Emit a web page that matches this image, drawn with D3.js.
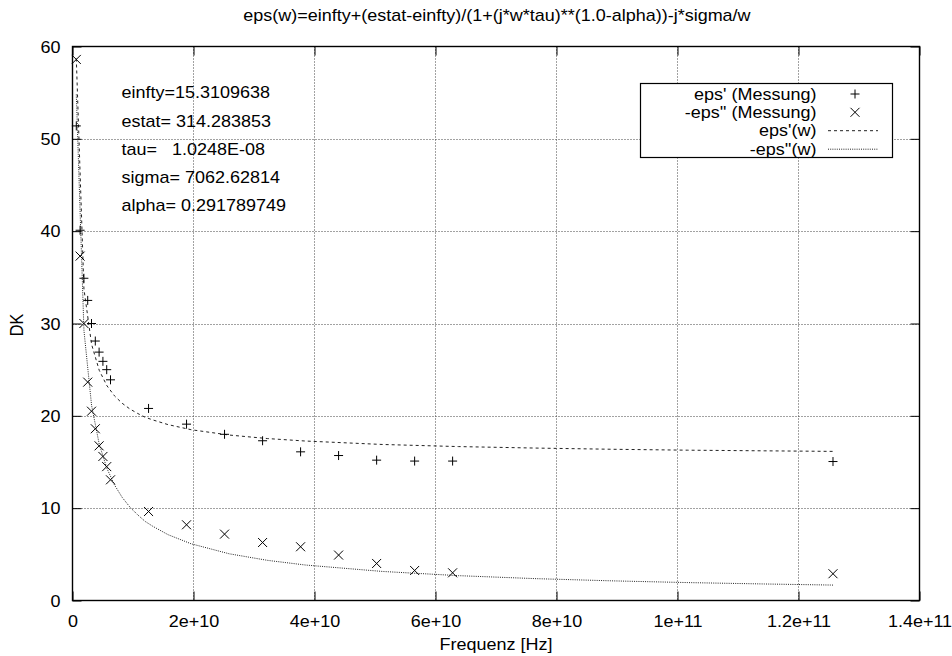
<!DOCTYPE html>
<html>
<head>
<meta charset="utf-8">
<script src="https://cdn.jsdelivr.net/npm/d3@7"></script>
<style>
  html, body { margin: 0; padding: 0; background: #fff; }
  svg { display: block; font-family: "Liberation Sans", Arial, Helvetica, sans-serif; }
  text { white-space: pre; fill: #000; }
</style>
</head>
<body>
<svg id="chart" width="952" height="656"></svg>
<script>
// Measured permittivity vs. angular frequency w [1/s]
const omega = [6.283e8, 1.257e9, 1.885e9, 2.513e9, 3.142e9, 3.770e9, 4.398e9, 5.027e9, 5.655e9, 6.283e9,
               1.257e10, 1.885e10, 2.513e10, 3.142e10, 3.770e10, 4.398e10, 5.027e10, 5.655e10, 6.283e10, 1.257e11];
const epsReal = [51.4, 40.1, 34.9, 32.5, 30.0, 28.1, 26.9, 25.9, 25.0, 23.9,
                 20.8, 19.1, 18.0, 17.3, 16.1, 15.7, 15.2, 15.1, 15.1, 15.05];
const epsImagNeg = [58.6, 37.3, 30.0, 23.65, 20.5, 18.6, 16.75, 15.6, 14.5, 13.07,
                    9.64, 8.2, 7.19, 6.28, 5.82, 4.92, 4.01, 3.25, 3.0, 2.9];

// Fitted Cole-Cole model, tabulated at the plot's sample frequencies
const fitOmega = [6.283e8, 1.8917e9, 3.1550e9, 4.4184e9, 5.6817e9, 6.9451e9, 8.2084e9, 9.4718e9,
                  1.07351e10, 1.19985e10, 1.32618e10, 1.57885e10, 1.95786e10, 2.58953e10, 3.22121e10,
                  3.85288e10, 5.11623e10, 6.37958e10, 7.64293e10, 8.90628e10, 1.016963e11, 1.143298e11, 1.2570e11];
const fitReal = [58.70, 33.73, 27.74, 24.93, 23.27, 22.16, 21.36, 20.75,
                 20.27, 19.85, 19.56, 19.05, 18.50, 17.92, 17.54,
                 17.27, 16.90, 16.67, 16.51, 16.38, 16.28, 16.21, 16.15];
const fitImagNeg = [54.81, 29.24, 21.12, 16.93, 14.32, 12.51, 11.17, 10.13,
                    9.30, 8.57, 8.04, 7.13, 6.15, 5.06, 4.35,
                    3.84, 3.15, 2.69, 2.37, 2.13, 1.94, 1.79, 1.67];

// Axis ticks
const xTicks = [0, 2e10, 4e10, 6e10, 8e10, 1e11, 1.2e11, 1.4e11];
const xTickLabels = ["0", "2e+10", "4e+10", "6e+10", "8e+10", "1e+11", "1.2e+11", "1.4e+11"];
const yTicks = [0, 10, 20, 30, 40, 50, 60];

// Texts
const titleText = "eps(w)=einfty+(estat-einfty)/(1+(j*w*tau)**(1.0-alpha))-j*sigma/w";
const xTitle = "Frequenz [Hz]";
const yTitle = "DK";
const fitParams = ["einfty=15.3109638", "estat= 314.283853", "tau=   1.0248E-08", "sigma= 7062.62814", "alpha= 0.291789749"];
const legendLabels = ["eps' (Messung)", "-eps'' (Messung)", "eps'(w)", "-eps''(w)"];

const SQ = 0.9;          // vertical glyph scale of all lettering
const FS = 18;           // font size
const HALF_CAP = 5.8;    // half the cap height after scaling

const svg = d3.select("#chart").attr("font-size", FS);
const m = { left: 72.5, right: 919.5, top: 46.5, bottom: 600.5 };

const x = d3.scaleLinear().domain([0, 1.4e11]).range([m.left, m.right]);
const y = d3.scaleLinear().domain([0, 60]).range([m.bottom, m.top]);

function label(g, str, px, py, anchor) {
  return g.append("text")
    .attr("x", px).attr("y", py / SQ)
    .attr("transform", `scale(1,${SQ})`)
    .attr("text-anchor", anchor || "start")
    .text(str);
}

// Grid
const grid = svg.append("g")
  .attr("stroke", "#444").attr("stroke-width", 1).attr("stroke-dasharray", "1,2").attr("fill", "none");
grid.selectAll("line.gx").data(xTicks.slice(1, -1)).join("line")
  .attr("x1", d => x(d)).attr("x2", d => x(d)).attr("y1", m.top).attr("y2", m.bottom);
grid.selectAll("line.gy").data(yTicks.slice(1, -1)).join("line")
  .attr("x1", m.left).attr("x2", m.right).attr("y1", d => Math.round(y(d)) + 0.5).attr("y2", d => Math.round(y(d)) + 0.5);

// Fit parameters
const params = svg.append("g");
fitParams.forEach((s, i) => label(params, s, 121.5, 98.5 + i * 28.1));

// Axes (ticks pointing inward, mirrored on top and right)
function styleAxis(g) {
  g.attr("font-size", null).attr("font-family", null);
  g.select(".domain").remove();
  g.selectAll(".tick line").attr("stroke", "#000");
}
const gx = svg.append("g").attr("transform", `translate(0,${m.bottom})`)
  .call(d3.axisBottom(x).tickValues(xTicks).tickFormat((d, i) => xTickLabels[i]).tickSizeInner(-9).tickSizeOuter(0));
styleAxis(gx);
gx.selectAll(".tick text").attr("dy", null).attr("y", 27 / SQ).attr("transform", `scale(1,${SQ})`);

const gy = svg.append("g").attr("transform", `translate(${m.left},0)`)
  .call(d3.axisLeft(y).tickValues(yTicks).tickSizeInner(-9).tickSizeOuter(0).tickPadding(12));
styleAxis(gy);
gy.selectAll(".tick text").attr("dy", null).attr("y", HALF_CAP / SQ).attr("transform", `scale(1,${SQ})`);

const gxt = svg.append("g").attr("transform", `translate(0,${m.top})`)
  .call(d3.axisTop(x).tickValues(xTicks).tickFormat("").tickSizeInner(-9).tickSizeOuter(0));
styleAxis(gxt);
const gyr = svg.append("g").attr("transform", `translate(${m.right},0)`)
  .call(d3.axisRight(y).tickValues(yTicks).tickFormat("").tickSizeInner(-9).tickSizeOuter(0));
styleAxis(gyr);

// Plot frame
svg.append("rect")
  .attr("x", m.left).attr("y", m.top).attr("width", m.right - m.left).attr("height", m.bottom - m.top)
  .attr("fill", "none").attr("stroke", "#000").attr("stroke-width", 1.4);

// Clip for curves
svg.append("clipPath").attr("id", "plotclip").append("rect")
  .attr("x", m.left).attr("y", m.top).attr("width", m.right - m.left).attr("height", m.bottom - m.top);

const lineReal = d3.line().x((d, i) => x(fitOmega[i])).y(d => y(d));
const curves = svg.append("g").attr("clip-path", "url(#plotclip)").attr("fill", "none");
curves.append("path").datum(fitReal).attr("d", lineReal)
  .attr("stroke", "#222").attr("stroke-width", 1).attr("stroke-dasharray", "3,3");
curves.append("path").datum(fitImagNeg).attr("d", lineReal)
  .attr("stroke", "#222").attr("stroke-width", 1).attr("stroke-dasharray", "1,1.2");

// Markers
const R = 4.5;
function plus(g, cx, cy) {
  g.append("path").attr("d", `M${cx - R},${cy}H${cx + R}M${cx},${cy - R}V${cy + R}`);
}
function cross(g, cx, cy) {
  g.append("path").attr("d", `M${cx - R},${cy - R}L${cx + R},${cy + R}M${cx - R},${cy + R}L${cx + R},${cy - R}`);
}
const marks = svg.append("g").attr("stroke", "#000").attr("stroke-width", 1).attr("fill", "none");
omega.forEach((w, i) => plus(marks, x(w), y(epsReal[i])));
omega.forEach((w, i) => cross(marks, x(w), y(epsImagNeg[i])));

// Legend
const lg = svg.append("g");
lg.append("rect").attr("x", 640.5).attr("y", 83.5).attr("width", 252).attr("height", 74)
  .attr("fill", "#fff").attr("stroke", "#000").attr("stroke-width", 1.2);
const rowY = [94, 112.3, 130.7, 149.2];
legendLabels.forEach((s, i) => label(lg, s, 816.5, rowY[i] + HALF_CAP, "end"));
const lm = lg.append("g").attr("stroke", "#000").attr("stroke-width", 1).attr("fill", "none");
plus(lm, 855, rowY[0]);
cross(lm, 855, rowY[1]);
lg.append("line").attr("x1", 828).attr("x2", 878).attr("y1", rowY[2]).attr("y2", rowY[2])
  .attr("stroke", "#222").attr("stroke-dasharray", "3,3");
lg.append("line").attr("x1", 828).attr("x2", 878).attr("y1", rowY[3]).attr("y2", rowY[3])
  .attr("stroke", "#222").attr("stroke-dasharray", "1,1.2");

// Titles
label(svg, titleText, 497, 21, "middle");
label(svg, xTitle, 496, 650, "middle");
svg.append("text")
  .attr("transform", `translate(22.8,325) rotate(-90) scale(${SQ},1)`)
  .attr("text-anchor", "middle").text(yTitle);
</script>
</body>
</html>
